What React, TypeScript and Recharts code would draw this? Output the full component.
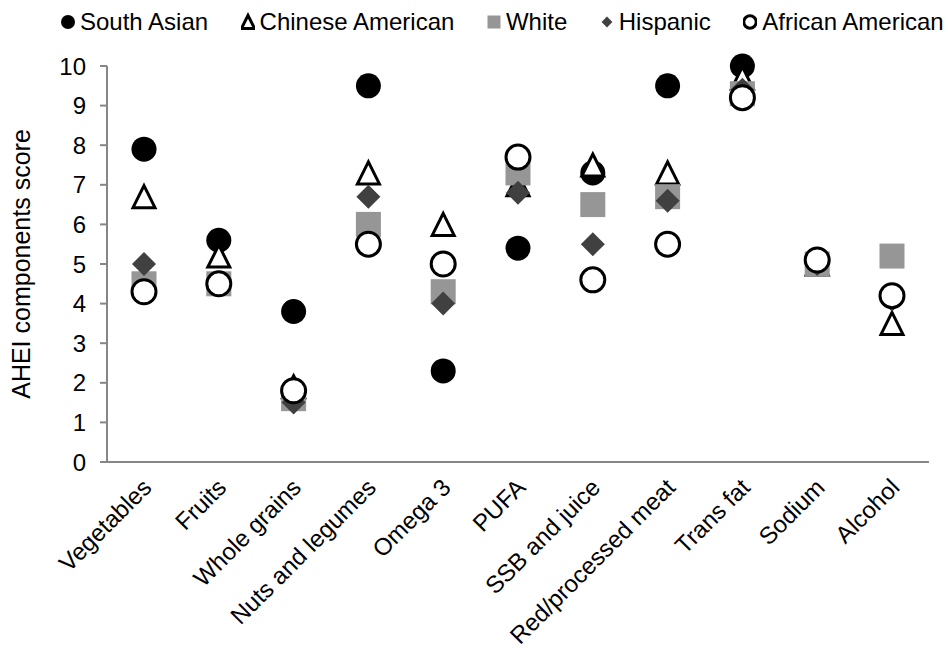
import React from 'react'
import { ComposedChart, Scatter, XAxis, YAxis } from 'recharts'

const categories = [
  'Vegetables', 'Fruits', 'Whole grains', 'Nuts and legumes', 'Omega 3', 'PUFA',
  'SSB and juice', 'Red/processed meat', 'Trans fat', 'Sodium', 'Alcohol',
]
const southAsian      = [7.9, 5.6, 3.8, 9.5, 2.3, 5.4, 7.3, 9.5, 10.0, 5.1, 4.2]
const chineseAmerican = [6.7, 5.2, 1.9, 7.3, 6.0, 7.0, 7.5, 7.3, 9.7, 5.0, 3.5]
const white           = [4.5, 4.5, 1.6, 6.0, 4.3, 7.3, 6.5, 6.7, 9.3, 5.0, 5.2]
const hispanic        = [5.0, 4.5, 1.5, 6.7, 4.0, 6.8, 5.5, 6.6, 9.4, 5.0, 4.1]
const africanAmerican = [4.3, 4.5, 1.8, 5.5, 5.0, 7.7, 4.6, 5.5, 9.2, 5.1, 4.2]
const yTicks = [0, 1, 2, 3, 4, 5, 6, 7, 8, 9, 10]

const FONT = '"Liberation Sans", Arial, Helvetica, sans-serif'
const AXIS = '#868686'

type Kind = 'dot' | 'tri' | 'sq' | 'dia' | 'ring'

// marker drawn at (cx, cy); s = scale (1 for plot, ~0.5 for legend)
function marker(kind: Kind, cx: number, cy: number, s = 1) {
  switch (kind) {
    case 'dot':
      return <circle cx={cx} cy={cy} r={12.5 * s} fill="#000" />
    case 'tri': {
      const h = 11 * s
      return (
        <polygon
          points={`${cx},${cy - h} ${cx + h},${cy + h} ${cx - h},${cy + h}`}
          fill="#fff" stroke="#000" strokeWidth={3} strokeLinejoin="miter"
        />
      )
    }
    case 'sq':
      return <rect x={cx - 12.5 * s} y={cy - 12.5 * s} width={25 * s} height={25 * s} fill="#969696" />
    case 'dia': {
      const d = 12 * s
      return <polygon points={`${cx},${cy - d} ${cx + d},${cy} ${cx},${cy + d} ${cx - d},${cy}`} fill="#404040" />
    }
    case 'ring':
      return <circle cx={cx} cy={cy} r={12 * s} fill="#fff" stroke="#000" strokeWidth={3} />
  }
}

const series: { key: string; name: string; values: number[]; kind: Kind }[] = [
  { key: 'sa', name: 'South Asian',      values: southAsian,      kind: 'dot' },
  { key: 'ca', name: 'Chinese American', values: chineseAmerican, kind: 'tri' },
  { key: 'wh', name: 'White',            values: white,           kind: 'sq' },
  { key: 'hi', name: 'Hispanic',         values: hispanic,        kind: 'dia' },
  { key: 'aa', name: 'African American', values: africanAmerican, kind: 'ring' },
]

const rows = categories.map((name, i) => {
  const r: Record<string, string | number> = { name }
  series.forEach(s => { r[s.key] = s.values[i] })
  return r
})

function XTick({ x, y, payload }: any) {
  return (
    <g transform={`translate(${x + 9},${y + 27})`}>
      <text transform="rotate(-45)" textAnchor="end" fontSize={24} fontFamily={FONT} fill="#000">
        {payload.value}
      </text>
    </g>
  )
}

function YLabel({ viewBox }: any) {
  const cy = viewBox.y + viewBox.height / 2
  return (
    <text x={30} y={cy} transform={`rotate(-90, 30, ${cy})`} textAnchor="middle"
      fontSize={25} fontFamily={FONT} fill="#000">
      AHEI components score
    </text>
  )
}

function LegendRow() {
  const size: Record<Kind, number> = { dot: 0.56, tri: 0.6, sq: 0.52, dia: 0.45, ring: 0.52 }
  return (
    <div style={{
      position: 'absolute', top: 10, left: 61, display: 'flex', gap: 32.5,
      fontFamily: FONT, fontSize: 24, lineHeight: '24px', color: '#000', whiteSpace: 'nowrap',
    }}>
      {series.map(s => (
        <div key={s.key} style={{ display: 'flex', alignItems: 'center' }}>
          <svg width={14} height={24} style={{ marginRight: 5 }}>
            {marker(s.kind, 7, 12, size[s.kind])}
          </svg>
          <span>{s.name}</span>
        </div>
      ))}
    </div>
  )
}

export default function App() {
  return (
    <div style={{ position: 'absolute', left: 0, top: 0, width: 948, height: 653, background: '#fff' }}>
      <ComposedChart width={948} height={653} data={rows}
        margin={{ top: 66, right: 19, bottom: 0, left: 0 }}>
        <XAxis
          dataKey="name"
          interval={0}
          height={191}
          padding={{ left: 37, right: 37 }}
          tickLine={false}
          tickSize={0}
          tickMargin={0}
          axisLine={{ stroke: AXIS, strokeWidth: 2 }}
          tick={<XTick />}
        />
        <YAxis
          type="number"
          domain={[0, 10]}
          ticks={yTicks}
          interval={0}
          width={107}
          tickSize={7}
          tickMargin={14}
          axisLine={{ stroke: AXIS, strokeWidth: 2 }}
          tickLine={{ stroke: AXIS, strokeWidth: 2 }}
          tick={{ fill: '#000', fontSize: 24, fontFamily: FONT }}
          label={<YLabel />}
        />
        {series.map(s => (
          <Scatter
            key={s.key}
            dataKey={s.key}
            name={s.name}
            isAnimationActive={false}
            shape={(p: any) => marker(s.kind, p.cx, p.cy)}
          />
        ))}
      </ComposedChart>
      <LegendRow />
    </div>
  )
}
